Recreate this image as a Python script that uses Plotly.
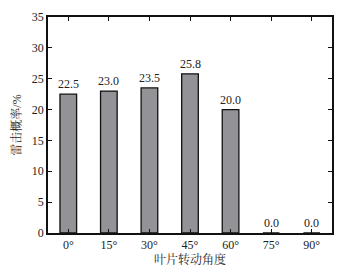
import plotly.graph_objects as go

categories = ["0°", "15°", "30°", "45°", "60°", "75°", "90°"]
values = [22.5, 23.0, 23.5, 25.8, 20.0, 0.0, 0.0]
y_ticks = [0, 5, 10, 15, 20, 25, 30, 35]

font_family = "Liberation Serif, Noto Serif CJK SC, Noto Sans CJK SC, serif"

fig = go.Figure()
fig.add_trace(go.Bar(
    x=categories, y=values, width=0.41,
    marker=dict(color="#929297", line=dict(color="#111111", width=1.3)),
    hoverinfo="skip",
))
for c, v in zip(categories, values):
    fig.add_annotation(
        x=c, y=v, text=f"{v:.1f}", showarrow=False,
        yanchor="bottom", yshift=1,
        font=dict(size=12, color="#222222", family=font_family),
    )
fig.update_layout(
    width=364, height=277,
    margin=dict(l=48, r=32, t=17, b=44, autoexpand=False),
    paper_bgcolor="white", plot_bgcolor="white",
    font=dict(family=font_family, size=12, color="#222222"),
    showlegend=False,
    xaxis=dict(
        title=dict(text="叶片转动角度", font=dict(size=12), standoff=4),
        automargin=False,
        showline=True, linecolor="#111111", linewidth=1.5, mirror="ticks",
        ticks="inside", ticklen=4, tickcolor="#111111",
        range=[-0.5, 6.5], showgrid=False,
    ),
    yaxis=dict(
        title=dict(text="雷击概率/%", font=dict(size=12), standoff=8),
        automargin=False,
        showline=True, linecolor="#111111", linewidth=1.5, mirror="ticks",
        ticks="inside", ticklen=4, tickcolor="#111111",
        range=[0, 35], tickvals=y_ticks, showgrid=False, zeroline=False,
    ),
)
fig.write_html(
    "out.html",
    config={"displayModeBar": False},
    post_script="document.body.style.margin='0';document.body.style.overflow='hidden';",
)
